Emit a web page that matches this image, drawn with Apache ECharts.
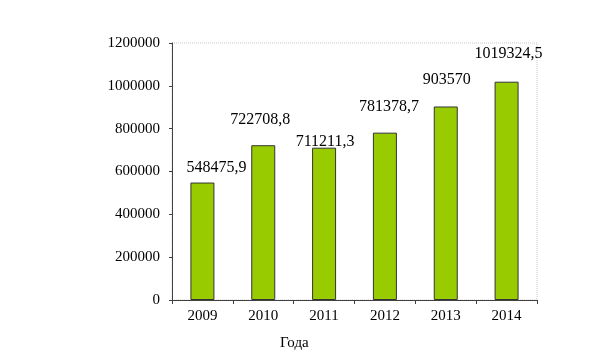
<!DOCTYPE html>
<html><head><meta charset="utf-8">
<script src="https://cdn.jsdelivr.net/npm/echarts@6/dist/echarts.min.js"></script>
<style>html,body{margin:0;padding:0;background:#fff}#c{width:608px;height:359px}</style>
</head><body><div id="c"></div>
<script>
const categories = ['2009','2010','2011','2012','2013','2014'];
const values = [548475.9, 722708.8, 711211.3, 781378.7, 903570, 1019324.5];
const yTicks = [0, 200000, 400000, 600000, 800000, 1000000, 1200000];
const xAxisTitle = 'Года';

// label placement tweaks (style only)
const labelOffsets = [[14,1],[-3,-9],[1,10],[4,-10],[1,-11],[2,-12]];
const font = '"Liberation Serif","Times New Roman",serif';

const chart = echarts.init(document.getElementById('c'));
chart.setOption({
  animation:false,
  grid:{left:172,right:71,top:43,bottom:59,show:true,borderColor:'#c8c8c8',borderType:'dotted',borderWidth:1},
  xAxis:{type:'category',data:categories,
    axisLine:{lineStyle:{color:'#404040',width:1}},
    axisTick:{show:true,length:4,lineStyle:{color:'#404040'}},
    axisLabel:{color:'#000',fontFamily:font,fontSize:15,margin:9}},
  yAxis:{type:'value',min:yTicks[0],max:yTicks[yTicks.length-1],interval:200000,
    axisLine:{show:true,lineStyle:{color:'#404040',width:1}},
    axisTick:{show:true,length:3,lineStyle:{color:'#404040'}},
    splitLine:{show:false},
    axisLabel:{color:'#000',fontFamily:font,fontSize:15,margin:12,formatter:v=>String(v)}},
  graphic:[{type:'text',left:280,top:336,style:{text:xAxisTitle,fontFamily:font,fontSize:15,fill:'#000'}}],
  series:[{type:'bar',barWidth:24,
    data:values.map((v,i)=>({value:v,label:{offset:labelOffsets[i]}})),
    itemStyle:{color:'#99cc00',borderColor:'#333',borderWidth:1},
    label:{show:true,position:'top',distance:8,color:'#000',fontFamily:font,fontSize:16,
      formatter:p=>String(p.value).replace('.',',')}}]
});
</script></body></html>
